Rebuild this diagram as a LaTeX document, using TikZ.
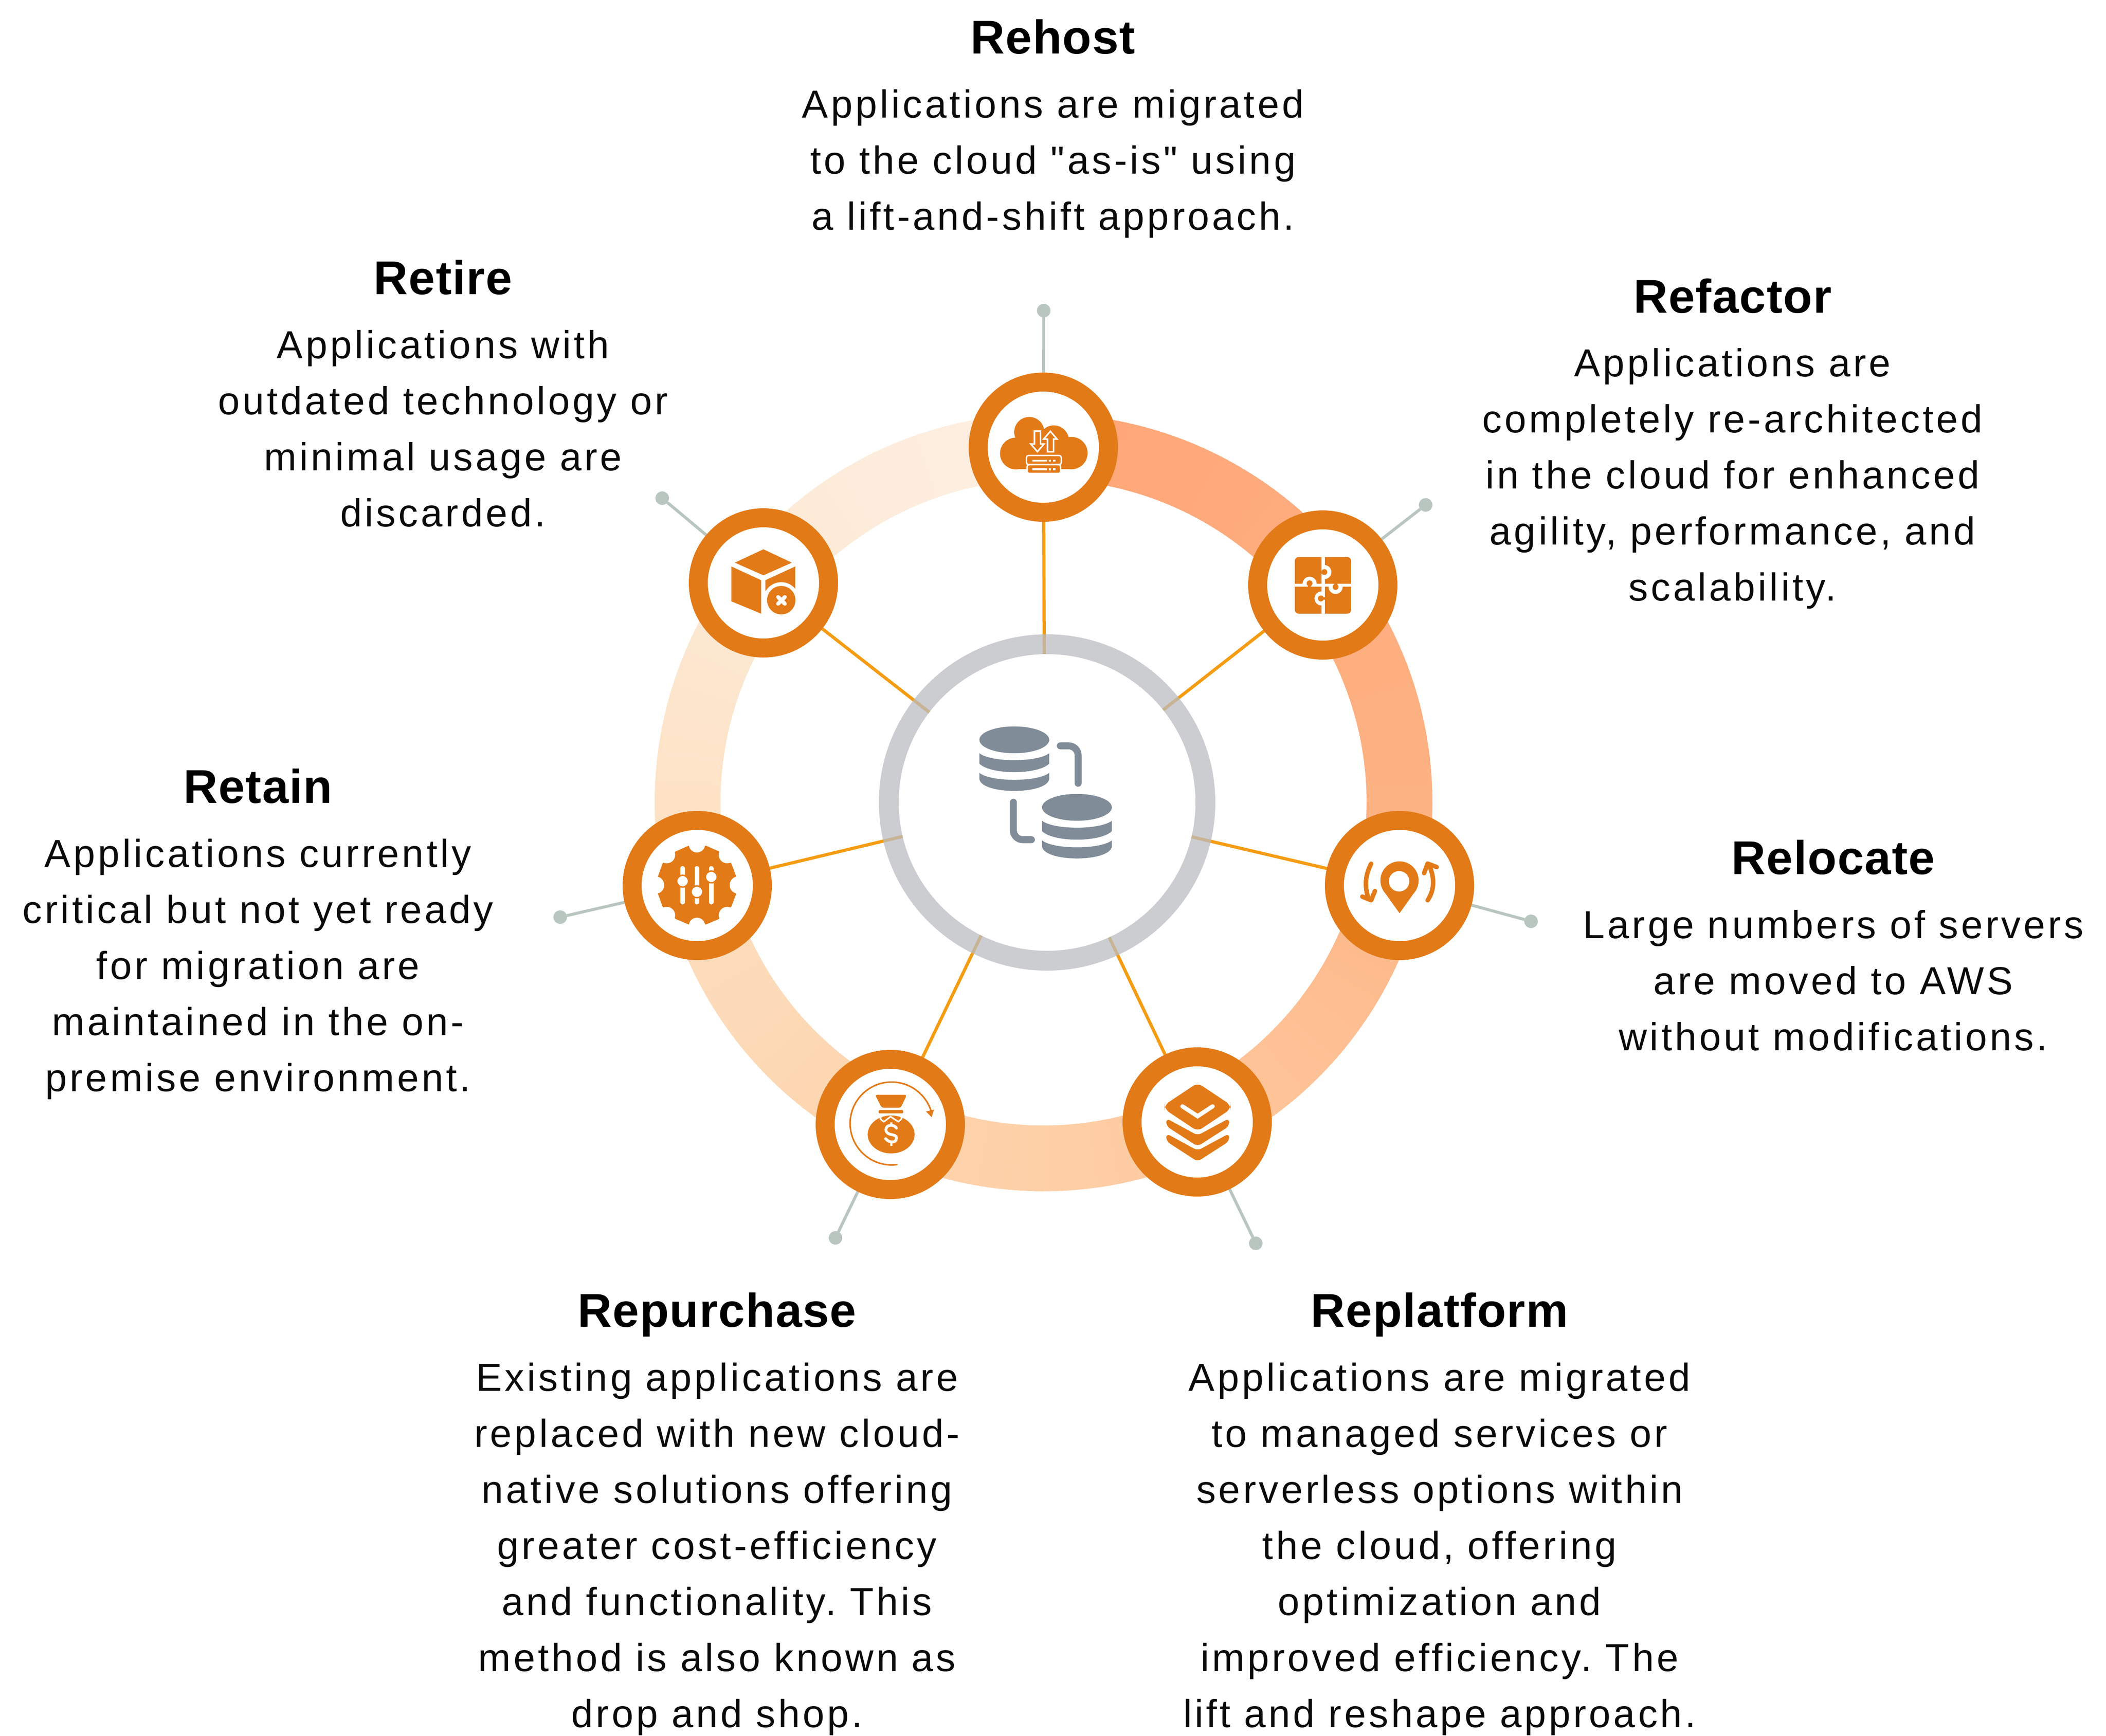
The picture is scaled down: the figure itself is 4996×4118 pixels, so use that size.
\documentclass[tikz,border=0pt]{standalone}
\usepackage{fontspec}
\setmainfont{Liberation Sans}[LetterSpace=7.1,Ligatures=TeXOff]
\newfontfamily\titlef{Liberation Sans}[LetterSpace=1.7]
\frenchspacing
\pgfdeclarelayer{back}
\pgfsetlayers{back,main}
\definecolor{ic}{HTML}{E37A18}
\definecolor{wire}{HTML}{F59C12}
\definecolor{leader}{HTML}{B9C6BF}
\definecolor{hubgrey}{RGB}{186,188,194}
\definecolor{dbgrey}{HTML}{808C98}
\definecolor{ink}{HTML}{0A0A0A}
\definecolor{bA}{HTML}{FFA678}
\definecolor{bB}{HTML}{FDB283}
\definecolor{bC}{HTML}{FEC79C}
\definecolor{bD}{HTML}{FED0A8}
\definecolor{bE}{HTML}{FDD6B1}
\definecolor{bF}{HTML}{FDE2C6}
\definecolor{bG}{HTML}{FCE9D4}
\definecolor{bH}{HTML}{FFF0E4}
\tikzset{
  zoomat/.style={shift={#1},x=0.0666667mm,y=-0.0666667mm},
  zw/.style={line width=#1*0.0666667mm},
  hubzoom/.style={shift={#1},x=0.10971mm,y=-0.10971mm},
  nodecirc/.style={circle,minimum size=61.8mm,line width=9mm,draw=ic,fill=white,inner sep=0pt,outer sep=0pt},
  hubdisc/.style={circle,minimum size=140.8mm,fill=white,inner sep=0pt,outer sep=0pt},
  hubband/.style={circle,minimum size=150.2mm,line width=9.4mm,draw=hubgrey,draw opacity=.75,inner sep=0pt,outer sep=0pt},
  dotnode/.style={circle,minimum size=6.4mm,fill=leader,inner sep=0pt,outer sep=0pt},
  wireline/.style={draw=wire,line width=1.5mm},
  leaderline/.style={draw=leader,line width=1.4mm},
  titletext/.style={anchor=base,inner sep=0pt,text=black,font=\titlef\fontsize{64}{70}\selectfont\bfseries},
  bodytext/.style={anchor=north,inner sep=0pt,align=center,text=ink,font=\fontsize{52.72}{75.68}\selectfont},
}
\begin{document}
\begin{tikzpicture}[x=0.2mm,y=-0.2mm]
\useasboundingbox (0,0) rectangle (4996,4118);

% hub
\coordinate (hubc) at (2479,1904);
\node[hubdisc] (hub) at (2484,1904) {};
\node[hubband] (hubring) at (2484,1904) {};

% spoke nodes
\node[nodecirc] (rehost) at (2475,1061) {};
\node[nodecirc] (refactor) at (3138,1388) {};
\node[nodecirc] (relocate) at (3320,2101) {};
\node[nodecirc] (replatform) at (2840,2662) {};
\node[nodecirc] (repurchase) at (2112,2668) {};
\node[nodecirc] (retain) at (1654,2101) {};
\node[nodecirc] (retire) at (1811,1383) {};

% end dots
\node[dotnode] (drehost) at (2476,737) {};
\node[dotnode] (drefactor) at (3382,1198) {};
\node[dotnode] (drelocate) at (3632,2186) {};
\node[dotnode] (dreplatform) at (2979,2950) {};
\node[dotnode] (drepurchase) at (1982,2937) {};
\node[dotnode] (dretain) at (1329,2176) {};
\node[dotnode] (dretire) at (1571,1182) {};

\begin{pgfonlayer}{back}
  \foreach \s/\e/\ca/\cb in {0/90/bA/bB,90/150/bB/bC,150/180/bC/bD,180/215/bD/bE,215/270/bE/bF,270/305/bF/bG,305/360/bG/bH}{
    \foreach \a in {\s,...,\e}{
      \pgfmathtruncatemacro\p{100*(\a-\s)/(\e-\s)}
      \draw[draw={\cb!\p!\ca},line width=31.2mm]
        ({2475.5+844.5*sin(\a)},{1904-844.5*cos(\a)}) -- ({2475.5+844.5*sin(\a+1.4)},{1904-844.5*cos(\a+1.4)});
    }
  }
  \foreach \n in {rehost,refactor,relocate,replatform,repurchase,retain,retire}{
    \draw[wireline] (hubc) -- (\n);
    \draw[leaderline] (\n) -- (d\n);
  }
\end{pgfonlayer}

% hub icon
\begin{scope}[hubzoom={(2060,1480)}]
  \foreach \dx/\dy in {0/0,271/292}{
    \begin{scope}[shift={(\dx,\dy)}]
      \fill[dbgrey] (631,502) ellipse[x radius=151,y radius=58];
      \fill[dbgrey] (480,560) .. controls (530,600) and (732,600) .. (782,560) -- (782,605)
         .. controls (732,654) and (530,654) .. (480,605) -- cycle;
      \fill[dbgrey] (480,645) .. controls (530,685) and (732,685) .. (782,645) -- (782,672)
         .. controls (770,740) and (492,740) .. (480,672) -- cycle;
    \end{scope}
  }
  \draw[dbgrey,line width=3.3mm,line cap=round,rounded corners=4.5mm] (830,528) -- (907,528) -- (907,690);
  \draw[dbgrey,line width=3.3mm,line cap=round,rounded corners=4.5mm] (627,772) -- (627,934) -- (705,934);
\end{scope}

% rehost icon
\begin{scope}[zoomat={(2250,850)}]
  \fill[ic] (480,678) circle[radius=113];
  \fill[ic] (575,525) circle[radius=107];
  \fill[ic] (750,585) circle[radius=107];
  \fill[ic] (875,675) circle[radius=115];
  \fill[ic] (480,600) rectangle (875,790);
  \draw[white,zw=11,fill=ic] (612,518) -- (655,518) -- (655,610) -- (680,610) -- (633,665) -- (585,610) -- (612,610) -- cycle;
  \draw[white,zw=11,fill=ic] (705,665) -- (748,665) -- (748,575) -- (772,575) -- (725,520) -- (678,575) -- (705,575) -- cycle;
  \draw[white,zw=10,fill=ic,rounded corners=1mm] (555,692) rectangle (803,757);
  \draw[white,zw=10,fill=ic,rounded corners=1mm] (560,757) rectangle (798,820);
  \foreach \yy in {729,790}{
    \draw[white,zw=13] (597,\yy) -- (702,\yy);
    \draw[white,zw=13] (713,\yy) -- (730,\yy);
    \draw[white,zw=13] (743,\yy) -- (762,\yy);
  }
\end{scope}

% refactor icon
\begin{scope}[zoomat={(2950,1180)}]
  \fill[ic,rounded corners=1.8mm] (365,425) rectangle (765,828);
  \fill[white] (555,425) rectangle (578,828);
  \fill[white] (365,615) rectangle (765,637);
  \begin{scope}\clip (575,460) rectangle (650,600); \fill[white] (575,532) circle[radius=50]; \end{scope}
  \fill[ic] (575,532) circle[radius=21]; \fill[ic] (550,522) rectangle (575,542);
  \begin{scope}\clip (400,540) rectangle (540,616); \fill[white] (470,615) circle[radius=50]; \end{scope}
  \fill[ic] (470,612) circle[radius=21]; \fill[ic] (460,612) rectangle (480,640);
  \begin{scope}\clip (590,636) rectangle (720,710); \fill[white] (655,638) circle[radius=50]; \end{scope}
  \fill[ic] (655,638) circle[radius=21]; \fill[ic] (645,612) rectangle (665,638);
  \begin{scope}\clip (480,650) rectangle (556,790); \fill[white] (555,720) circle[radius=50]; \end{scope}
  \fill[ic] (550,720) circle[radius=21]; \fill[ic] (550,710) rectangle (578,730);
\end{scope}

% relocate icon
\begin{scope}[zoomat={(3130,1900)}]
  \fill[ic] (570,567) circle[radius=136];
  \fill[ic] (450,632) -- (570,800) -- (690,632) -- cycle;
  \fill[white] (567,573) circle[radius=73];
  \draw[ic,zw=32,line cap=round,line join=round] (368,448) .. controls (325,530) and (320,610) .. (350,700);
  \draw[ic,zw=32,line cap=round,line join=round] (305,682) -- (368,708) -- (395,642);
  \draw[ic,zw=32,line cap=round,line join=round] (770,708) .. controls (815,640) and (825,560) .. (780,455);
  \draw[ic,zw=32,line cap=round,line join=round] (745,515) -- (770,447) -- (835,472);
\end{scope}

% replatform icon
\begin{scope}[zoomat={(2640,2480)}]
  \fill[ic,rounded corners=2.6mm] (603,268) -- (838,425) -- (838,455) -- (603,612) -- (368,455) -- (368,425) -- cycle;
  \draw[white,zw=30,line cap=round,line join=miter] (495,435) -- (603,505) -- (710,435);
  \foreach \dy in {0,108}{
    \begin{scope}[shift={(0,\dy)}]
      \fill[ic,rounded corners=2mm] (380,520) -- (603,642) -- (828,520) -- (828,575) -- (603,720) -- (380,575) -- cycle;
    \end{scope}
  }
\end{scope}

% repurchase icon
\begin{scope}[zoomat={(1920,2480)}]
  \draw[ic,zw=11,domain=82:343,samples=80,smooth] plot ({585+295*cos(\x)},{557+295*sin(\x)});
  \fill[ic] (830,472) -- (887,458) -- (870,512) -- cycle;
  \fill[ic] (582,635) ellipse[x radius=167,y radius=135];
  \fill[ic,rounded corners=1mm] (468,353) -- (694,353) -- (650,445) -- (515,445) -- cycle;
  \fill[ic,rounded corners=.5mm] (493,462) rectangle (668,485);
  \fill[white] (493,490) rectangle (668,498);
  \draw[white,zw=11,line join=round] (512,500) -- (505,525) -- (530,545) -- (578,508) -- (633,545) -- (657,522) -- (650,500);
  \draw[white,zw=15] (582,548) -- (582,570);
  \draw[white,zw=15] (582,692) -- (582,716);
  \draw[white,zw=20,line cap=round] (620,590) .. controls (600,558) and (545,565) .. (545,600)
     .. controls (545,650) and (620,625) .. (620,660) .. controls (620,700) and (565,695) .. (543,665);
\end{scope}

% retain icon
\begin{scope}[zoomat={(1470,1900)}]
  \fill[ic] (490,320) -- (615,320) -- (705,360) -- (795,447) -- (830,540) -- (830,660) -- (795,752) -- (705,842)
     -- (615,880) -- (490,880) -- (400,842) -- (305,752) -- (272,660) -- (272,540) -- (305,447) -- (400,360) -- cycle;
  \fill[white] (550,310) circle[radius=58];
  \fill[white] (550,890) circle[radius=58];
  \fill[white] (845,600) circle[radius=62];
  \fill[white] (255,600) circle[radius=62];
  \fill[white] (765,385) circle[radius=60];
  \fill[white] (335,385) circle[radius=60];
  \fill[white] (765,815) circle[radius=60];
  \fill[white] (335,815) circle[radius=60];
  \foreach \xx/\yy in {448/572,550/648,652/542}{
    \draw[white,zw=35,line cap=round] (\xx,482) -- (\xx,720);
    \draw[ic,zw=10,fill=white] (\xx,\yy) circle[radius=42];
  }
\end{scope}

% retire icon
\begin{scope}[zoomat={(1630,1180)}]
  \fill[ic] (543,370) -- (745,465) -- (543,555) -- (340,465) -- cycle;
  \fill[ic] (315,492) -- (527,590) -- (527,828) -- (315,740) -- cycle;
  \fill[ic] (557,590) -- (770,492) -- (770,650) -- (557,665) -- cycle;
  \fill[white] (670,732) circle[radius=128];
  \fill[ic] (670,732) circle[radius=101];
  \draw[white,zw=28,line cap=round] (648,710) -- (695,757);
  \draw[white,zw=28,line cap=round] (695,710) -- (648,757);
\end{scope}

% texts
\node[titletext] (trehost) at (2498,127) {Rehost};
\node[bodytext] (brehost) at (2498,186) {\strut Applications are migrated\\to the cloud "as-is" using\\a lift-and-shift approach.};

\node[titletext] (trefactor) at (4110,742) {Refactor};
\node[bodytext] (brefactor) at (4110,800) {\strut Applications are\\completely re-architected\\in the cloud for enhanced\\agility, performance, and\\scalability.};

\node[titletext] (trelocate) at (4349,2074) {Relocate};
\node[bodytext] (brelocate) at (4349,2133) {\strut Large numbers of servers\\are moved to AWS\\without modifications.};

\node[titletext] (treplatform) at (3415,3148) {Replatform};
\node[bodytext] (breplatform) at (3415,3207) {\strut Applications are migrated\\to managed services or\\serverless options within\\the cloud, offering\\optimization and\\improved efficiency. The\\lift and reshape approach.};

\node[titletext] (trepurchase) at (1701,3148) {Repurchase};
\node[bodytext] (brepurchase) at (1701,3207) {\strut Existing applications are\\replaced with new cloud-\\native solutions offering\\greater cost-efficiency\\and functionality. This\\method is also known as\\drop and shop.};

\node[titletext] (tretain) at (612,1905) {Retain};
\node[bodytext] (bretain) at (612,1964) {\strut Applications currently\\critical but not yet ready\\for migration are\\maintained in the on-\\premise environment.};

\node[titletext] (tretire) at (1051,698) {Retire};
\node[bodytext] (bretire) at (1051,757) {\strut Applications with\\outdated technology or\\minimal usage are\\discarded.};
\end{tikzpicture}
\end{document}
